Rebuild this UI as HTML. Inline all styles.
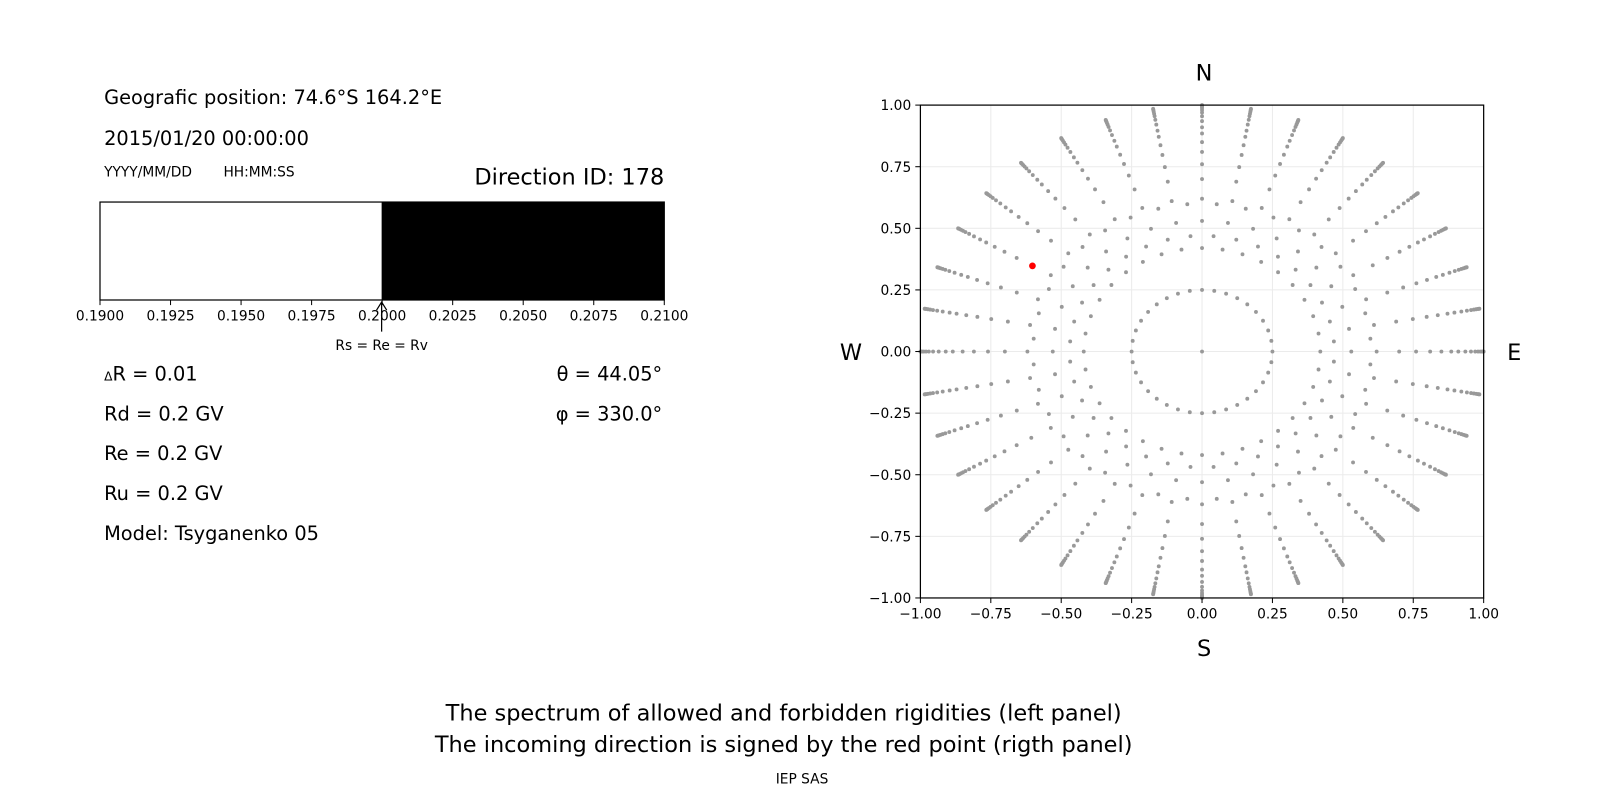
<!DOCTYPE html>
<html><head><meta charset="utf-8"><style>
body{margin:0;background:#fff;}
svg{display:block;font-family:"DejaVu Sans","Liberation Sans",sans-serif;}
</style></head><body>
<svg id="s" width="1600" height="800" xmlns="http://www.w3.org/2000/svg">
<rect width="1600" height="800" fill="#fff"/>
<g transform="scale(1.0204)">
<text x="102" y="102" font-size="19">Geografic position: 74.6°S 164.2°E</text>
<text x="102" y="142" font-size="19">2015/01/20 00:00:00</text>
<text x="102" y="173" font-size="13.5">YYYY/MM/DD</text>
<text x="219" y="173" font-size="13.5">HH:MM:SS</text>
<text x="651" y="181" font-size="22" text-anchor="end">Direction ID: 178</text>
<rect x="374" y="198" width="277" height="96" fill="#000"/>
<rect x="98" y="198" width="553" height="96" fill="none" stroke="#000" stroke-width="1.2"/>
<g id="lt" font-size="13.5" text-anchor="middle"></g>
<line x1="374" y1="325" x2="374" y2="297" stroke="#000" stroke-width="1.2"/>
<path d="M369,304 L374,296 L379,304" fill="none" stroke="#000" stroke-width="1.2"/>
<text x="374" y="343" font-size="13.5" text-anchor="middle">Rs = Re = Rv</text>
<text x="102" y="373" font-size="19"><tspan font-size="12">Δ</tspan>R = 0.01</text>
<text x="102" y="412" font-size="19">Rd = 0.2 GV</text>
<text x="102" y="451" font-size="19">Re = 0.2 GV</text>
<text x="102" y="490" font-size="19">Ru = 0.2 GV</text>
<text x="102" y="529" font-size="19">Model: Tsyganenko 05</text>
<text x="649" y="373" font-size="19" text-anchor="end">θ = 44.05°</text>
<text x="649" y="412" font-size="19" text-anchor="end">φ = 330.0°</text>
<g id="grid"></g>
<g id="dots"></g>
<circle cx="1011.8" cy="260.6" r="3.3" fill="#f00"/>
<rect x="902" y="103" width="552" height="483" fill="none" stroke="#000" stroke-width="1.2"/>
<g id="rt" font-size="13.5"></g>
<text x="1180" y="79" font-size="22" text-anchor="middle">N</text>
<text x="1180" y="643" font-size="22" text-anchor="middle">S</text>
<text x="834" y="353" font-size="22" text-anchor="middle">W</text>
<text x="1484" y="353" font-size="22" text-anchor="middle">E</text>
<text x="768" y="706" font-size="22" text-anchor="middle">The spectrum of allowed and forbidden rigidities (left panel)</text>
<text x="768" y="737" font-size="22" text-anchor="middle">The incoming direction is signed by the red point (rigth panel)</text>
<text x="786" y="768" font-size="13.5" text-anchor="middle">IEP SAS</text>
</g>
</svg>
<script>
var NS="http://www.w3.org/2000/svg";
function el(p,t,a,txt){var e=document.createElementNS(NS,t);for(var k in a)e.setAttribute(k,a[k]);if(txt!=null)e.textContent=txt;document.getElementById(p).appendChild(e);}
for(var i=0;i<=8;i++){var x=98+i*553/8;el("lt","line",{x1:x,y1:294,x2:x,y2:299,stroke:"#000"});el("lt","text",{x:x,y:314},(0.19+i*0.0025).toFixed(4));}
function X(v){return 902+(v+1)*276;}function Y(v){return 586-(v+1)*241.5;}
for(var i=0;i<=8;i++){var v=-1+i*0.25;var s=(v<0?"−":"")+Math.abs(v).toFixed(2);
el("grid","line",{x1:X(v),y1:103,x2:X(v),y2:586,stroke:"#ebebeb"});
el("grid","line",{x1:902,y1:Y(v),x2:1454,y2:Y(v),stroke:"#ebebeb"});
el("rt","line",{x1:X(v),y1:586,x2:X(v),y2:591,stroke:"#000"});
el("rt","text",{x:X(v),y:606,"text-anchor":"middle"},s);
el("rt","line",{x1:897,y1:Y(v),x2:902,y2:Y(v),stroke:"#000"});
el("rt","text",{x:893,y:Y(v)+5,"text-anchor":"end"},s);}
function dot(r,a){el("dots","circle",{cx:X(r*Math.cos(a)),cy:Y(r*Math.sin(a)),r:1.9,fill:"#999"});}
dot(0,0);
for(var k=0;k<36;k++)dot(0.25,k*Math.PI/18);
var rs=[0.42,0.53,0.62,0.70,0.76,0.81,0.85,0.885,0.91,0.935,0.955,0.97,0.98,0.988,0.994,0.998,1.0];
for(var k=0;k<36;k++)for(var j=0;j<rs.length;j++)dot(rs[j],k*Math.PI/18);
var extra=[[0.47,36,0.5],[0.6,36,0.5]];
extra.forEach(function(e){for(var k=0;k<e[1];k++)dot(e[0],(k+e[2])*2*Math.PI/e[1]);});
</script>
</body></html>
